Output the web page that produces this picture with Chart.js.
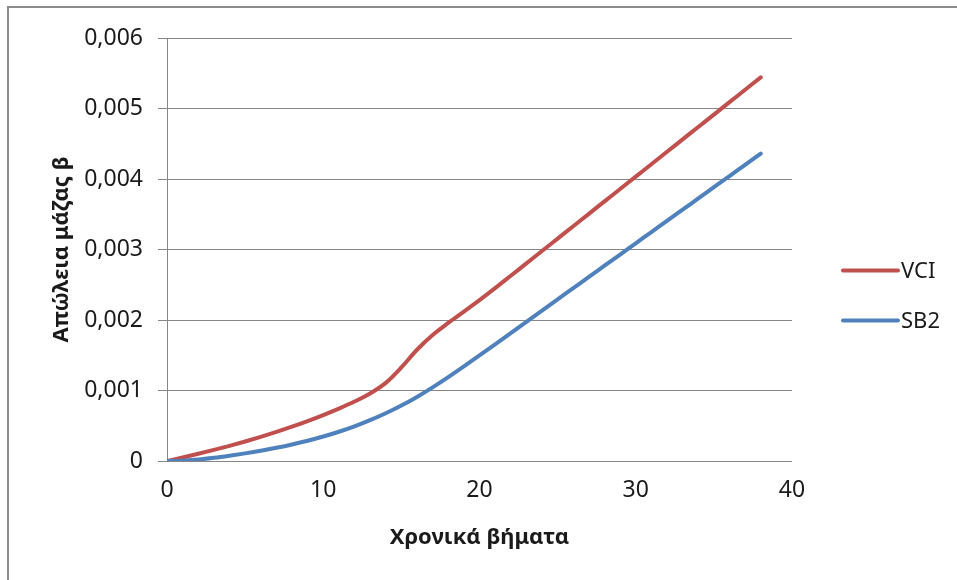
<!DOCTYPE html>
<html>
<head>
<meta charset="utf-8">
<script src="https://cdn.jsdelivr.net/npm/chart.js@4/dist/chart.umd.min.js"></script>
<style>
  html, body { margin: 0; padding: 0; background: #fff; overflow: hidden; }
  #wrap { position: relative; width: 957px; height: 580px; }
  #frame { position: absolute; left: 7px; top: 6px; width: 1000px; height: 1000px;
           border-left: 2px solid #8c8c8c; border-top: 2px solid #8c8c8c; pointer-events: none; }
  canvas { position: absolute; left: 0; top: 0; }
</style>
</head>
<body>
<div id="wrap">
  <canvas id="c" width="957" height="580"></canvas>
  <div id="frame"></div>
</div>
<script>
// Time steps and mass-loss values per series
const steps = [0, 1, 2, 3, 4, 5, 6, 7, 8, 9, 10, 11, 12, 13, 14, 15, 16, 17, 18, 19,
               20, 21, 22, 23, 24, 25, 26, 27, 28, 29, 30, 31, 32, 33, 34, 35, 36, 37, 38];

const vci = [0, 0.00005, 0.000102, 0.000157, 0.000215, 0.000277, 0.000343, 0.000413, 0.000487, 0.000566,
             0.000651, 0.000743, 0.000843, 0.000958, 0.001108, 0.001328, 0.001578, 0.001788, 0.001958, 0.002118,
             0.002283, 0.002453, 0.002628, 0.002803, 0.002978, 0.003154, 0.00333, 0.003506, 0.003682, 0.003858,
             0.004034, 0.00421, 0.004386, 0.004562, 0.004738, 0.004914, 0.00509, 0.005266, 0.005442];

const sb2 = [0, 0.000005, 0.00002, 0.000045, 0.000075, 0.000108, 0.000145, 0.000187, 0.000234, 0.000287,
             0.000347, 0.000415, 0.000492, 0.000579, 0.000677, 0.000787, 0.000909, 0.001044, 0.001189, 0.001341,
             0.001497, 0.001655, 0.001815, 0.001975, 0.002134, 0.002293, 0.002452, 0.002611, 0.00277, 0.002929,
             0.003088, 0.003247, 0.003406, 0.003565, 0.003724, 0.003883, 0.004042, 0.004201, 0.00436];

const seriesNames = ['VCI', 'SB2'];
const xTickValues = [0, 10, 20, 30, 40];
const yTickValues = [0, 0.001, 0.002, 0.003, 0.004, 0.005, 0.006];
const yTickLabels = ['0', '0,001', '0,002', '0,003', '0,004', '0,005', '0,006'];

const FONT = "'Noto Sans', 'DejaVu Sans', sans-serif";
const TEXT = '#1a1a1a';
const GRID = '#868686';

// Legend drawn to the right of the plot: short line sample followed by the series name
const sideLegend = {
  id: 'sideLegend',
  afterDraw(chart) {
    const ctx = chart.ctx;
    const area = chart.chartArea;
    const x0 = area.right + 51;
    const x1 = x0 + 55;
    const yMid = (area.top + area.bottom) / 2 + 46;
    chart.data.datasets.forEach((ds, i) => {
      const y = yMid - 25 + i * 50;
      ctx.save();
      ctx.strokeStyle = ds.borderColor;
      ctx.lineWidth = 4;
      ctx.lineCap = 'round';
      ctx.beginPath();
      ctx.moveTo(x0, y);
      ctx.lineTo(x1, y);
      ctx.stroke();
      ctx.fillStyle = TEXT;
      ctx.font = '22px ' + FONT;
      ctx.textAlign = 'left';
      ctx.textBaseline = 'middle';
      ctx.fillText(ds.label, x1 + 3, y + 1);
      ctx.restore();
    });
  }
};

const toPoints = arr => steps.map((s, i) => ({ x: s, y: arr[i] }));

new Chart(document.getElementById('c'), {
  type: 'line',
  data: {
    datasets: [
      {
        label: seriesNames[0],
        data: toPoints(vci),
        borderColor: '#C0504D',
        backgroundColor: '#C0504D',
        borderWidth: 4,
        borderCapStyle: 'round',
        borderJoinStyle: 'round',
        pointRadius: 0,
        cubicInterpolationMode: 'monotone',
        fill: false,
        order: 1
      },
      {
        label: seriesNames[1],
        data: toPoints(sb2),
        borderColor: '#4F81BD',
        backgroundColor: '#4F81BD',
        borderWidth: 4,
        borderCapStyle: 'round',
        borderJoinStyle: 'round',
        pointRadius: 0,
        cubicInterpolationMode: 'monotone',
        fill: false,
        order: 0
      }
    ]
  },
  options: {
    responsive: false,
    animation: false,
    events: [],
    devicePixelRatio: 1,
    layout: { padding: { left: 0, top: 38, right: 165, bottom: 0 } },
    plugins: {
      legend: { display: false },
      tooltip: { enabled: false }
    },
    scales: {
      x: {
        type: 'linear',
        min: 0,
        max: 40,
        afterBuildTicks: s => { s.ticks = xTickValues.map(v => ({ value: v })); },
        ticks: { font: { family: FONT, size: 23 }, color: TEXT, padding: 16, maxRotation: 0 },
        grid: { display: false, drawTicks: false },
        border: { display: false },
        title: {
          display: true,
          text: 'Χρονικά βήματα',
          color: TEXT,
          font: { family: FONT, size: 22, weight: 'bold' },
          padding: { top: 0, bottom: 29 }
        },
        afterFit: s => { s.height = 119; s.paddingLeft = 0; s.paddingRight = 0; }
      },
      y: {
        type: 'linear',
        min: 0,
        max: 0.006,
        afterBuildTicks: s => { s.ticks = yTickValues.map(v => ({ value: v })); },
        ticks: {
          font: { family: FONT, size: 23 },
          color: TEXT,
          padding: 15,
          callback: (v, i) => yTickLabels[i]
        },
        grid: { color: GRID, lineWidth: 1, drawTicks: true, tickLength: 9, tickColor: GRID },
        border: { display: true, color: GRID, width: 1 },
        title: {
          display: true,
          text: 'Απώλεια μάζας β',
          color: TEXT,
          font: { family: FONT, size: 22, weight: 'bold' },
          padding: { top: 49, bottom: 0 }
        },
        afterFit: s => { s.width = 167; s.paddingTop = 0; s.paddingBottom = 0; }
      }
    }
  },
  plugins: [sideLegend]
});
</script>
</body>
</html>
